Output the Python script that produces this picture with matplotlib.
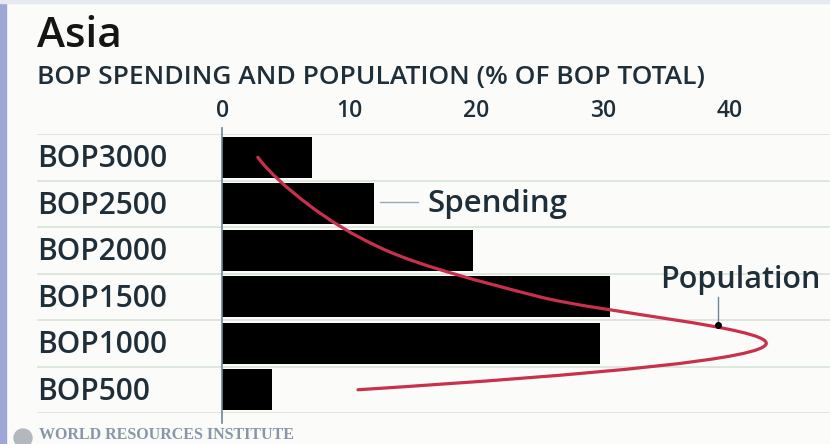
import numpy as np
import matplotlib
matplotlib.use("Agg")
import matplotlib.pyplot as plt
from matplotlib.path import Path
from matplotlib.patches import PathPatch, Rectangle, Ellipse

# данные (сверху вниз)
categories = ["BOP3000", "BOP2500", "BOP2000", "BOP1500", "BOP1000", "BOP500"]
spending = [7.1, 12.0, 19.8, 30.6, 29.8, 3.9]      # % расходов BOP
population = [2.8, 6.7, 12.9, 25.0, 42.9, 10.7]   # % населения BOP
tick_values = [0, 10, 20, 30, 40]

plt.rcParams['font.family'] = ['Open Sans', 'DejaVu Sans']
text_col = "#1f2f3a"
wt = 'semibold'

fig = plt.figure(figsize=(8.3, 4.44), dpi=100, facecolor="#fbfcfa")
W, H = 830, 444

# оси: от x=37 до правого края, от y=134 до y=413 (пиксели)
ax = fig.add_axes([37 / W, 31 / H, (W - 37) / W, 279 / H])
ax.set_facecolor("none")
px_per_unit = 12.68
ax.set_xlim((37 - 222.3) / px_per_unit, (W - 222.3) / px_per_unit)
ax.set_ylim(len(categories) - 0.5, -0.5)
for s in ax.spines.values():
    s.set_visible(False)

rows = np.arange(len(categories))

# горизонтальные разделители
ax.hlines(np.arange(-0.5, len(categories)), *ax.get_xlim(), color="#dbe5da", lw=1.3, zorder=1)

# столбцы расходов
ax.barh(rows, spending, height=0.88, color="black", zorder=2)

# вертикальная линия нуля
ax.plot([0, 0], [-0.62, 5.72], color="#6f8494", lw=1.2, clip_on=False, zorder=3)

# ось X сверху
ax.xaxis.set_ticks_position('top')
ax.set_xticks(tick_values)
ax.set_xticklabels([str(v) for v in tick_values], fontweight=wt)
ax.tick_params(axis='x', length=0, pad=8, labelsize=16.5, labelcolor=text_col)
ax.set_yticks([])

# подписи категорий слева
for i, name in enumerate(categories):
    ax.text(0, i + 0.22, name, transform=ax.get_yaxis_transform(),
            ha='left', va='baseline', fontsize=21.5, fontweight=wt, color=text_col)

# кривая населения: монотонный кубический сплайн (pchip) через кривые Безье
x = np.array(population, dtype=float)
y = rows.astype(float)
delta = np.diff(x)
d = np.zeros_like(x)
for k in range(1, len(x) - 1):
    if delta[k - 1] * delta[k] > 0:
        d[k] = 2 / (1 / delta[k - 1] + 1 / delta[k])
d[0] = (3 * delta[0] - delta[1]) / 2
d[-1] = (3 * delta[-1] - delta[-2]) / 2
verts = [(x[0], y[0])]
codes = [Path.MOVETO]
for k in range(len(x) - 1):
    verts += [(x[k] + d[k] / 3, y[k] + 1 / 3),
              (x[k + 1] - d[k + 1] / 3, y[k + 1] - 1 / 3),
              (x[k + 1], y[k + 1])]
    codes += [Path.CURVE4] * 3
ax.add_patch(PathPatch(Path(verts, codes), facecolor="none", edgecolor="#c8304c",
                       lw=2.3, zorder=4, capstyle='round'))

# подпись Spending
ax.plot([12.4, 15.4], [0.96, 0.96], color="#9aa9b4", lw=1, zorder=3)
ax.text(16.2, 1.17, "Spending", ha='left', va='baseline', fontsize=22.5,
        fontweight=wt, color=text_col)

# подпись Population
ax.plot([39.06, 39.06], [3.0, 3.6], color="#6f8494", lw=1, zorder=5)
ax.plot([39.06], [3.6], 'o', color="black", ms=4, zorder=6)
ax.text(34.5, 2.81, "Population", ha='left', va='baseline', fontsize=22,
        fontweight=wt, color=text_col)

# заголовки
fig.text(37 / W, 1 - 46.7 / H, "Asia", ha='left', va='baseline', fontsize=30.5,
         fontweight=wt, color="#151515")
fig.text(37 / W, 1 - 84 / H, "BOP SPENDING AND POPULATION (% OF BOP TOTAL)",
         ha='left', va='baseline', fontsize=19, fontweight=wt, color=text_col)

# подвал
fig.add_artist(Ellipse((23 / W, 1 - 438 / H), 18 / W, 18 / H, color="#b3b7be"))
fig.text(39 / W, 1 - 439 / H, "WORLD RESOURCES INSTITUTE", ha='left', va='baseline',
         fontsize=11.5, fontweight='bold', family='Liberation Serif', color="#8797a8")

# рамки слева и сверху
fig.add_artist(Rectangle((0, 0), 6 / W, 1, color="#9ea8d6", transform=fig.transFigure))
fig.add_artist(Rectangle((0, 1 - 3 / H), 1, 3 / H, color="#e6eaf0", transform=fig.transFigure))

fig.savefig("out.png", dpi=100, facecolor=fig.get_facecolor())
